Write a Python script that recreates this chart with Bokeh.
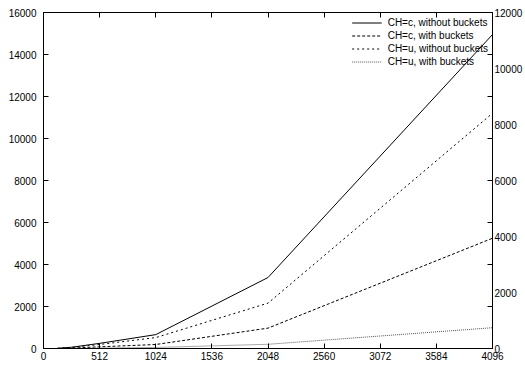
from bokeh.plotting import figure
from bokeh.models import LinearAxis, Range1d, FixedTicker, Legend, LegendItem, CustomLabelingPolicy
from bokeh.embed import file_html
from bokeh.resources import INLINE

# data
x_sizes = [128, 256, 512, 1024, 2048, 4096]
c_without = [10, 60, 245, 660, 3380, 14950]
c_with = [5, 20, 80, 190, 970, 5250]
u_without = [8, 50, 190, 520, 2160, 11200]
u_with = [2, 5, 20, 50, 200, 990]

x_ticks = [0, 512, 1024, 1536, 2048, 2560, 3072, 3584, 4096]
y_ticks = [0, 2000, 4000, 6000, 8000, 10000, 12000, 14000, 16000]
y2_ticks = [0, 2000, 4000, 6000, 8000, 10000, 12000]

FONT = "Liberation Sans"
FS = "10px"

p = figure(width=525, height=366, x_range=Range1d(0, 4096), y_range=Range1d(0, 16000),
           output_backend="svg", toolbar_location=None,
           x_axis_type=None, y_axis_type=None)
p.extra_y_ranges = {"y2": Range1d(0, 12000)}
p.xgrid.visible = False
p.ygrid.visible = False
p.outline_line_color = "black"
p.outline_line_width = 1
p.min_border_left = 43
p.min_border_right = 0
p.min_border_top = 12
p.min_border_bottom = 18
p.background_fill_color = "white"
p.border_fill_color = "white"


def style(ax):
    ax.axis_line_color = "black"
    ax.axis_line_width = 1
    ax.major_tick_in = 5
    ax.major_tick_out = 0
    ax.major_tick_line_color = "black"
    ax.minor_tick_line_color = None
    ax.major_label_text_font = FONT
    ax.major_label_text_font_size = FS
    ax.major_label_text_color = "black"


bottom = LinearAxis(ticker=FixedTicker(ticks=x_ticks))
style(bottom)
bottom.major_label_standoff = 3
p.add_layout(bottom, "below")

# mirrored x ticks on top, without labels
top = LinearAxis(ticker=FixedTicker(ticks=x_ticks))
style(top)
top.major_label_standoff = 0
top.major_label_policy = CustomLabelingPolicy(code="""
for (let i = 0; i < indices.size; i++) { indices.unset(i) }
return indices
""")
p.add_layout(top, "above")

left = LinearAxis(ticker=FixedTicker(ticks=y_ticks))
style(left)
left.major_label_standoff = 7
p.add_layout(left, "left")

# right axis: labels on y2 scale, mirrored (unlabelled) ticks of the left axis
mirror = [t * 12000 / 16000 for t in y_ticks]
right = LinearAxis(y_range_name="y2", ticker=FixedTicker(ticks=y2_ticks, minor_ticks=mirror))
style(right)
right.major_tick_in = 0
right.minor_tick_line_color = "black"
right.minor_tick_in = 5
right.minor_tick_out = 0
right.major_label_standoff = 2
p.add_layout(right, "right")

r1 = p.line(x_sizes, c_without, line_color="black", line_width=1)
r2 = p.line(x_sizes, c_with, line_color="black", line_width=1, line_dash="3 2")
r3 = p.line(x_sizes, u_without, line_color="black", line_width=1, line_dash="2 3")
r4 = p.line(x_sizes, u_with, line_color="#555555", line_width=1, line_dash="1 1")

legend = Legend(items=[
    LegendItem(label="CH=c, without buckets", renderers=[r1]),
    LegendItem(label="CH=c, with buckets", renderers=[r2]),
    LegendItem(label="CH=u, without buckets", renderers=[r3]),
    LegendItem(label="CH=u, with buckets", renderers=[r4]),
], location="top_right")
legend.background_fill_alpha = 0
legend.border_line_color = None
legend.label_text_font = FONT
legend.label_text_font_size = FS
legend.label_text_color = "black"
legend.glyph_width = 30
legend.glyph_height = 13
legend.label_height = 13
legend.spacing = 0
legend.padding = 2
legend.margin = 4
legend.label_standoff = 6
p.add_layout(legend)

open("out.html", "w").write(file_html(p, INLINE))
